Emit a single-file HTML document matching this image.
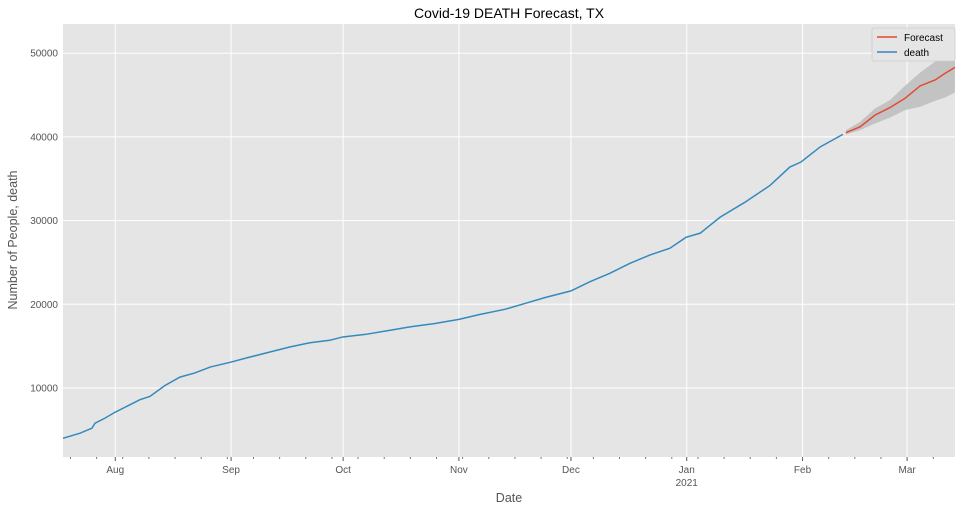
<!DOCTYPE html>
<html><head><meta charset="utf-8">
<style>
body{margin:0;background:#fff;font-family:"Liberation Sans","DejaVu Sans",sans-serif;}
svg text{font-family:"Liberation Sans","DejaVu Sans",sans-serif;}
</style></head>
<body>
<svg id="chart" width="962" height="511" xmlns="http://www.w3.org/2000/svg">
<defs><clipPath id="clip"><rect x="63" y="24" width="892" height="433"/></clipPath></defs>
<text x="509" y="18" text-anchor="middle" font-size="14" fill="#000">Covid-19 DEATH Forecast, TX</text>
<rect x="63" y="24" width="892" height="433" fill="#e5e5e5"/>
<g id="grid"></g>
<g id="axes"></g>
<g id="series" clip-path="url(#clip)"></g>
<text x="509" y="502" text-anchor="middle" font-size="12.5" fill="#555">Date</text>
<text transform="translate(17,240) rotate(-90)" text-anchor="middle" font-size="12.5" fill="#555">Number of People, death</text>
<g>
<rect x="872" y="28" width="83" height="33" fill="#e5e5e5" stroke="#ccc" stroke-width="0.8" rx="2"/>
<line x1="877" y1="37" x2="897" y2="37" stroke="#e24a33" stroke-width="1.5"/>
<text x="904" y="41" font-size="10" fill="#000">Forecast</text>
<line x1="877" y1="52" x2="897" y2="52" stroke="#348abd" stroke-width="1.5"/>
<text x="904" y="56" font-size="10" fill="#000">death</text>
</g>
</svg>
<script>
// day offsets from 2020-07-18
const histDays=[0,4.55,7.76,8.57,11.24,13.92,16.6,20.6,23.3,27.3,31.3,35.3,39.4,45,50.1,55.4,60.7,66.1,71.4,74.9,80.9,86.2,92.9,99.6,106,111.7,118.3,123.7,129,136,141.1,146.4,151.8,157.2,162.5,166.8,170.6,175.9,182.6,189.3,194.6,197.6,202.7,208.8];
const histValues=[4000,4600,5200,5800,6400,7100,7700,8600,9000,10300,11300,11800,12500,13100,13700,14300,14900,15400,15700,16100,16400,16800,17300,17700,18200,18800,19400,20100,20800,21600,22700,23700,24900,25900,26700,28000,28500,30400,32200,34200,36400,37000,38800,40300];
const fcDays=[209.6,213.4,217.4,221.4,225.4,229.5,233.5,236.2,238.8];
const fcValues=[40500,41200,42600,43500,44600,46100,46800,47600,48300];
const fcUpper=[40800,41800,43400,44400,46100,47700,49000,50000,51000];
const fcLower=[40300,40800,41600,42300,43200,43600,44300,44700,45300];
const yTicks=[10000,20000,30000,40000,50000];
const monthDays=[14,45,75,106,136,167,198,226];
const monthLabels=["Aug","Sep","Oct","Nov","Dec","Jan","Feb","Mar"];
const x=d=>63+3.735*d;
const y=v=>471.7-v*83.7/10000;
const NS="http://www.w3.org/2000/svg";
function mk(tag,attrs,parent){const e=document.createElementNS(NS,tag);for(const k in attrs)e.setAttribute(k,attrs[k]);document.getElementById(parent).appendChild(e);return e;}
yTicks.forEach(v=>{
 const g=mk('line',{x1:63,x2:955,y1:y(v),y2:y(v),stroke:'#fff','stroke-width':1},'grid');
 
 
 const t=mk('text',{x:58,y:y(v)+3.5,'text-anchor':'end','font-size':10,fill:'#555'},'axes');
 t.textContent=v;
 
 
});
monthDays.forEach((d,i)=>{
 const g=mk('line',{x1:x(d),x2:x(d),y1:24,y2:457,stroke:'#fff','stroke-width':1},'grid');
 
 
 const tk=mk('line',{x1:x(d),x2:x(d),y1:457,y2:461,stroke:'#555'},'axes');
 
 
 const t=mk('text',{x:x(d),y:473,'text-anchor':'middle','font-size':10,fill:'#555'},'axes');
 t.textContent=monthLabels[i];
 
 
 if(monthLabels[i]==="Jan"){const t2=mk('text',{x:x(d),y:486,'text-anchor':'middle','font-size':10,fill:'#555'},'axes');t2.textContent="2021";
 
 }
});
for(let d=2;d<=238;d+=7){const m=mk('line',{x1:x(d),x2:x(d),y1:457,y2:459,stroke:'#777'},'axes');
 
 }
let band=fcDays.map((d,i)=>x(d)+','+y(fcUpper[i])).join(' ')+' '+fcDays.map((d,i)=>x(d)+','+y(fcLower[i])).reverse().join(' ');
const b=mk('polygon',{points:band,fill:'#bdbdbd',opacity:0.85},'series');


const h=mk('polyline',{points:histDays.map((d,i)=>x(d)+','+y(histValues[i])).join(' '),fill:'none',stroke:'#348abd','stroke-width':1.5},'series');


const f=mk('polyline',{points:fcDays.map((d,i)=>x(d)+','+y(fcValues[i])).join(' '),fill:'none',stroke:'#e24a33','stroke-width':1.5},'series');


</script>
</body></html>
